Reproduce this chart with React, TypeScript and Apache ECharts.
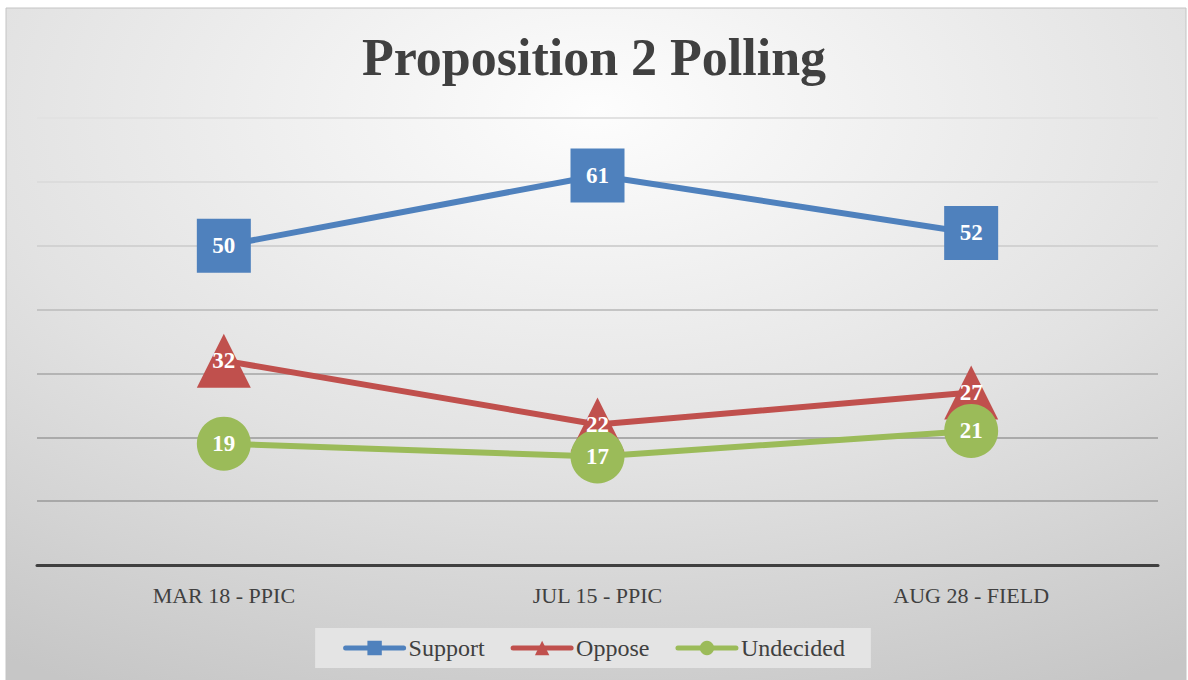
import React, { useEffect, useRef } from "react";
import * as echarts from "echarts";

const categories = ["MAR 18 - PPIC", "JUL 15 - PPIC", "AUG 28 - FIELD"];
const support = [50, 61, 52];
const oppose = [32, 22, 27];
const undecided = [19, 17, 21];
const seriesNames = ["Support", "Oppose", "Undecided"];
const colors = ["#4f81bd", "#c0504d", "#9bbb59"];
const FONT = "Liberation Serif";

export default function App() {
  const ref = useRef<HTMLDivElement>(null);
  useEffect(() => {
    if (!ref.current) return;
    const chart = echarts.init(ref.current, undefined, { renderer: "svg" });
    const mk = (name: string, data: number[], color: string, symbol: string) => ({
      name,
      type: "line",
      data,
      symbol,
      symbolSize: 54,
      z: 3,
      lineStyle: { color, width: 6 },
      itemStyle: { color },
      label: {
        show: true,
        position: "inside",
        color: "#ffffff",
        fontFamily: FONT,
        fontWeight: "bold",
        fontSize: 23,
      },
    });
    chart.setOption({
      animation: false,
      textStyle: { fontFamily: FONT },
      graphic: [
        {
          type: "rect",
          z: -10,
          silent: true,
          shape: { x: 6, y: 8, width: 1180, height: 680 },
          style: {
            fill: new echarts.graphic.RadialGradient(0.5, 0.15, 0.95, [
              { offset: 0, color: "#fdfdfd" },
              { offset: 0.55, color: "#e2e2e2" },
              { offset: 1, color: "#c6c6c6" },
            ]),
            stroke: "#c4c4c4",
            lineWidth: 1,
          },
        },
      ],
      title: {
        text: "Proposition 2 Polling",
        left: "center",
        top: 26,
        textStyle: {
          fontFamily: FONT,
          fontWeight: "bold",
          fontSize: 52,
          color: "#404040",
        },
      },
      legend: {
        data: seriesNames,
        bottom: 12,
        left: "center",
        backgroundColor: "#e4e4e4",
        padding: [8, 26, 8, 28],
        itemGap: 26,
        itemWidth: 58,
        itemHeight: 18,
        lineStyle: { width: 5, cap: "round" },
        textStyle: { fontFamily: FONT, fontSize: 24, color: "#404040" },
      },
      grid: { left: 37, right: 30, top: 118, bottom: 115, containLabel: false },
      xAxis: {
        type: "category",
        data: categories,
        boundaryGap: true,
        axisLine: { show: true, lineStyle: { color: "#404040", width: 3 } },
        axisTick: { show: false },
        axisLabel: { fontFamily: FONT, fontSize: 22, color: "#404040", margin: 19 },
      },
      yAxis: {
        type: "value",
        min: 0,
        max: 70,
        interval: 10,
        axisLine: { show: false },
        axisTick: { show: false },
        axisLabel: { show: false },
        splitLine: {
          lineStyle: {
            width: 2,
            color: ["#b0b0b0", "#a8a8a8", "#aaaaaa", "#b4b4b4", "#c4c4c4", "#d2d2d2", "#dcdcdc", "#e2e2e2"],
          },
        },
      },
      series: [
        mk(seriesNames[0], support, colors[0], "rect"),
        mk(seriesNames[1], oppose, colors[1], "triangle"),
        mk(seriesNames[2], undecided, colors[2], "circle"),
      ],
    });
    return () => chart.dispose();
  }, []);
  return (
    <div
      ref={ref}
      style={{ position: "fixed", left: 0, top: 0, width: 1188, height: 680, background: "#ffffff" }}
    />
  );
}
